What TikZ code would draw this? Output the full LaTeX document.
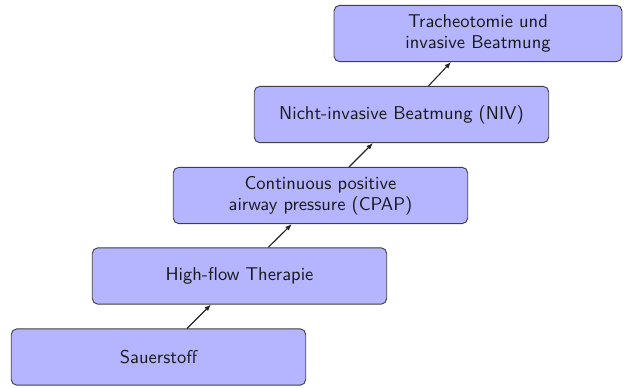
\documentclass[tikz,border=0pt]{standalone}
\usetikzlibrary{arrows.meta}
\begin{document}
\begin{tikzpicture}[x=0.54pt,y=-0.54pt,
  stepbox/.style={draw=black!75,line width=0.5pt,fill=blue!29,rounded corners=3pt,
    minimum width=159pt,minimum height=30.4pt,align=center,inner sep=2pt,
    font=\sffamily\fontsize{10}{11.5}\selectfont,text=black!90},
  conn/.style={-{Latex[length=3.5pt,width=2.8pt]},line width=0.6pt,draw=black!85}]
\useasboundingbox (0,0) rectangle (624,387);
\node[stepbox] (s1) at (158.5,357) {Sauerstoff};
\node[stepbox] (s2) at (239.5,276) {High-flow Therapie};
\node[stepbox] (s3) at (320.5,195.5) {Continuous positive\\airway pressure (CPAP)};
\node[stepbox] (s4) at (401.5,114.5) {Nicht-invasive Beatmung (NIV)};
\node[stepbox,minimum width=155.5pt] (s5) at (478,33.5) {Tracheotomie und\\invasive Beatmung};
\draw[conn] (s1) -- (s2);
\draw[conn] (s2) -- (s3);
\draw[conn] (s3) -- (s4);
\draw[conn] (s4) -- (s5);
\end{tikzpicture}
\end{document}
